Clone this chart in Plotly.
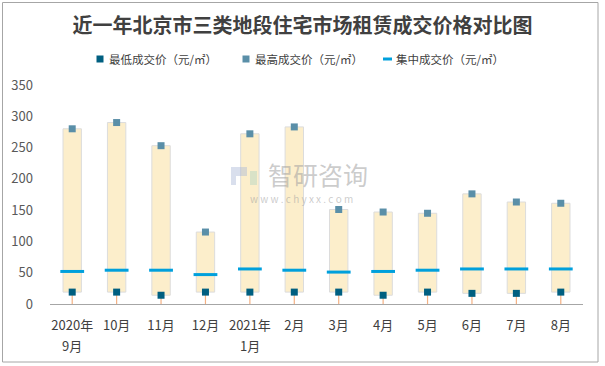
import plotly.graph_objects as go

categories = ["2020年", "10月", "11月", "12月", "2021年", "2月",
              "3月", "4月", "5月", "6月", "7月", "8月"]
sub_labels = {0: "9月", 4: "1月"}
min_price = [19, 19, 14, 19, 19, 19, 19, 14, 19, 17, 17, 19]
max_price = [280, 290, 253, 115, 272, 283, 151, 147, 145, 176, 163, 161]
mid_price = [52, 54, 54, 47, 56, 54, 51, 52, 54, 56, 56, 56]
y_ticks = [0, 50, 100, 150, 200, 250, 300, 350]
legend_names = ["最低成交价（元/㎡）", "最高成交价（元/㎡）", "集中成交价（元/㎡）"]

W, H = 605, 366
L, R, T, B = 50, 22, 85, 62
PW, PH = W - L - R, H - T - B


def px(xp):
    return (xp - L) / PW


def py(yp):
    return (H - B - yp) / PH


x = list(range(len(categories)))
fig = go.Figure()

# whiskers from axis to min
for xi, lo in zip(x, min_price):
    fig.add_trace(go.Scatter(x=[xi, xi], y=[0, lo], mode="lines",
                             line=dict(color="#F4B183", width=1.2),
                             showlegend=False, hoverinfo="skip"))

# floating range boxes
fig.add_trace(go.Bar(x=x, y=[h - l for h, l in zip(max_price, min_price)], base=min_price,
                     width=0.414, marker=dict(color="#FCEECB", line=dict(color="#DCDCDC", width=1)),
                     showlegend=False, hoverinfo="skip"))

fig.add_trace(go.Scatter(x=x, y=min_price, mode="markers", name=legend_names[0], showlegend=False,
                         marker=dict(symbol="square", size=7, color="#005F80")))
fig.add_trace(go.Scatter(x=x, y=max_price, mode="markers", name=legend_names[1], showlegend=False,
                         marker=dict(symbol="square", size=7, color="#5A8FA8")))
fig.add_trace(go.Scatter(x=x, y=mid_price, mode="markers", name=legend_names[2], showlegend=False,
                         marker=dict(symbol="line-ew", size=17,
                                     line=dict(color="#00A0DC", width=3))))

shapes = [dict(type="rect", xref="paper", yref="paper",
               x0=px(2.5), x1=px(598), y0=py(362), y1=py(2.5),
               line=dict(color="#A6A6A6", width=1), fillcolor="rgba(0,0,0,0)", layer="below")]
# legend keys
shapes.append(dict(type="rect", xref="paper", yref="paper", x0=px(96.5), x1=px(103.5),
                   y0=py(62.5), y1=py(55.5), fillcolor="#005F80", line=dict(width=0)))
shapes.append(dict(type="rect", xref="paper", yref="paper", x0=px(242.5), x1=px(249.5),
                   y0=py(62.5), y1=py(55.5), fillcolor="#5A8FA8", line=dict(width=0)))
shapes.append(dict(type="rect", xref="paper", yref="paper", x0=px(383), x1=px(392),
                   y0=py(60.5), y1=py(57.5), fillcolor="#00A0DC", line=dict(width=0)))
# watermark logo (faint)
shapes.append(dict(type="rect", xref="paper", yref="paper", x0=px(231), x1=px(247),
                   y0=py(176), y1=py(167), fillcolor="rgba(170,185,215,0.45)", line=dict(width=0)))
shapes.append(dict(type="rect", xref="paper", yref="paper", x0=px(231), x1=px(236),
                   y0=py(185), y1=py(176), fillcolor="rgba(170,185,215,0.45)", line=dict(width=0)))
shapes.append(dict(type="rect", xref="paper", yref="paper", x0=px(250), x1=px(257),
                   y0=py(185), y1=py(171), fillcolor="rgba(175,210,195,0.45)", line=dict(width=0)))

annotations = [
    dict(text="智研咨询", xref="paper", yref="paper", x=px(318), y=py(174),
         showarrow=False, font=dict(size=25, color="rgba(160,160,160,0.55)")),
    dict(text="w w w . c h y x x . c o m", xref="paper", yref="paper",
         x=px(301), y=py(198), showarrow=False,
         font=dict(size=10, color="rgba(160,160,160,0.55)")),
]
for tx, name in zip([107, 253, 394], legend_names):
    annotations.append(dict(text=name, xref="paper", yref="paper", x=px(tx), y=py(59),
                            xanchor="left", yanchor="middle", showarrow=False,
                            font=dict(size=11.5, color="#404040")))
for idx, lab in sub_labels.items():
    annotations.append(dict(text=lab, xref="x", yref="paper", x=idx, y=py(345),
                            xanchor="center", yanchor="middle", showarrow=False,
                            font=dict(size=13, color="#404040")))

fig.update_layout(
    width=W, height=H,
    margin=dict(l=L, r=R, t=T, b=B, autoexpand=False),
    paper_bgcolor="white", plot_bgcolor="white",
    font=dict(family="Noto Sans CJK SC", size=13, color="#404040"),
    showlegend=False,
    title=dict(text="<b>近一年北京市三类地段住宅市场租赁成交价格对比图</b>",
               x=0.5, xanchor="center", y=1 - 26 / H, yanchor="middle",
               font=dict(family="Noto Sans CJK SC", size=20, color="#404040")),
    xaxis=dict(tickmode="array", tickvals=x, ticktext=categories, range=[-0.5, 11.5],
               showline=True, linecolor="#A6A6A6", linewidth=1, ticks="",
               showgrid=False, zeroline=False, tickfont=dict(size=13, color="#404040"),
               ticklabelstandoff=9, automargin=False),
    yaxis=dict(range=[0, 350], tickvals=y_ticks, showgrid=False, zeroline=False,
               showline=False, ticks="", tickfont=dict(size=13, color="#595959"),
               ticklabelstandoff=16, automargin=False),
    shapes=shapes,
    annotations=annotations,
)

fig.write_html("out.html", config={"displayModeBar": False},
               post_script="document.body.style.margin='0';")
